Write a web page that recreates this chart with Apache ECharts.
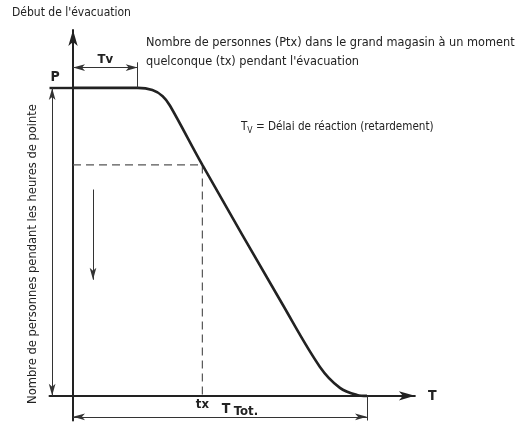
<!DOCTYPE html>
<html>
<head>
<meta charset="utf-8">
<script src="https://cdn.jsdelivr.net/npm/echarts@6/dist/echarts.min.js"></script>
<style>
html, body { margin: 0; background: #fff; }
#main { width: 517px; height: 425px; }
</style>
</head>
<body>
<div id="main"></div>
<script>
// courbe d'évacuation : temps T (en % de T Tot.) / personnes (en % de P)
var curveT = [0, 15, 22, 27, 30.5, 33, 44, 71.4, 84, 90.8, 96.6, 100];
var curveP = [100, 100, 100, 99.3, 97.3, 94.2, 75, 29.5, 9.4, 2.6, 0.3, 0];

var peakP = 100;     // P
var tvValue = 22;    // Tv : délai de réaction
var txValue = 44;    // tx
var ptxValue = 75;   // Ptx
var tTotValue = 100; // T Tot.

var txLabel = 'tx';

var FONT = "'DejaVu Sans Condensed', 'Liberation Sans Narrow', sans-serif";
var INK = '#222';

var curveData = curveT.map(function (t, i) { return [t, curveP[i]]; });

var chart = echarts.init(document.getElementById('main'));

var option = {
    backgroundColor: '#fff',
    animation: false,
    grid: { left: 49.5, right: 102.1, top: 30, bottom: 4.5, outerBoundsMode: 'none', containLabel: false },
    xAxis: {
        type: 'value',
        min: -8,
        max: 116.3,
        splitLine: { show: false },
        axisTick: { show: false },
        axisLabel: { show: false },
        axisLine: {
            onZero: true,
            symbol: ['none', 'arrow'],
            symbolSize: [7, 16],
            lineStyle: { color: INK, width: 2 }
        },
        name: 'T',
        nameLocation: 'end',
        nameGap: 13,
        nameTextStyle: { color: INK, fontFamily: FONT, fontWeight: 'bold', fontSize: 14, padding: [10, 0, 0, 0] }
    },
    yAxis: {
        type: 'value',
        min: -8,
        max: 118.8,
        splitLine: { show: false },
        axisTick: { show: false },
        axisLabel: { show: false },
        axisLine: {
            onZero: true,
            symbol: ['none', 'arrow'],
            symbolSize: [7, 16],
            lineStyle: { color: INK, width: 2 }
        }
    },
    series: [
        {
            // pointillés Ptx / tx
            type: 'line',
            data: [
                [0, ptxValue],
                [txValue, ptxValue],
                {
                    value: [txValue, 0],
                    symbol: 'circle',
                    symbolSize: 0,
                    label: {
                        show: true, position: 'bottom', distance: 2, formatter: txLabel,
                        color: INK, fontFamily: FONT, fontWeight: 'bold', fontSize: 13
                    }
                }
            ],
            symbol: 'none',
            showSymbol: true,
            silent: true,
            lineStyle: { color: '#555', width: 1.2, type: [8, 5] },
            z: 2
        },
        {
            type: 'line',
            data: curveData,
            smooth: 0.35,
            symbol: 'none',
            silent: true,
            lineStyle: { color: INK, width: 2.6 },
            z: 3,
            markLine: {
                silent: true,
                symbol: ['arrow', 'arrow'],
                symbolSize: [5, 12],
                lineStyle: { color: '#333', width: 1, type: 'solid' },
                label: { show: false },
                data: [
                    // Tv
                    [
                        {
                            coord: [0, 106.6],
                            label: {
                                show: true, position: 'middle', formatter: 'Tv', distance: 1,
                                color: INK, fontFamily: FONT, fontWeight: 'bold', fontSize: 13
                            }
                        },
                        { coord: [tvValue, 106.6] }
                    ],
                    [{ coord: [tvValue, peakP], symbol: 'none' }, { coord: [tvValue, 108.3], symbol: 'none' }],
                    // P
                    [{ coord: [-8, peakP], symbol: 'none', lineStyle: { width: 2.4, color: INK } }, { coord: [0, peakP], symbol: 'none' }],
                    [{ coord: [-7.1, peakP] }, { coord: [-7.1, 0] }],
                    // T Tot.
                    [
                        {
                            coord: [0, -6.8],
                            label: {
                                show: true, position: 'middle', distance: -3,
                                formatter: '{a|T} {b|Tot.}',
                                padding: [0, 0, 0, 40],
                                rich: {
                                    a: { color: INK, fontFamily: FONT, fontWeight: 'bold', fontSize: 14, padding: [0, 0, 3, 0] },
                                    b: { color: INK, fontFamily: FONT, fontWeight: 'bold', fontSize: 13 }
                                }
                            }
                        },
                        { coord: [tTotValue, -6.8] }
                    ],
                    [{ coord: [tTotValue, 0], symbol: 'none' }, { coord: [tTotValue, -8], symbol: 'none' }],
                    // flèche descendante
                    [{ coord: [6.8, 67], symbol: 'none' }, { coord: [6.8, 37.7] }]
                ]
            }
        }
    ],
    graphic: [
        {
            type: 'text', left: 12, top: 7,
            style: { text: "Début de l'évacuation", fill: INK, font: '12px ' + FONT }
        },
        {
            type: 'text', left: 146, top: 33,
            style: {
                text: "Nombre de personnes (Ptx) dans le grand magasin à un moment\nquelconque (tx) pendant l'évacuation",
                fill: INK, font: '12.6px ' + FONT, lineHeight: 19
            }
        },
        {
            type: 'text', left: 241, top: 121,
            style: {
                text: '{t|T}{s|V}{n| = Délai de réaction (retardement)}',
                rich: {
                    t: { fill: INK, font: '11.6px ' + FONT },
                    s: { fill: INK, font: '8.5px ' + FONT, padding: [7, 0, 0, 0] },
                    n: { fill: INK, font: '11.6px ' + FONT }
                }
            }
        },
        {
            type: 'text', x: 55, y: 77,
            style: { text: 'P', fill: INK, font: 'bold 14px ' + FONT, align: 'center', verticalAlign: 'middle' }
        },
        {
            type: 'text', x: 33, y: 254, rotation: Math.PI / 2,
            style: {
                text: 'Nombre de personnes pendant les heures de pointe',
                fill: INK, font: '12.8px ' + FONT, align: 'center', verticalAlign: 'middle'
            }
        }
    ]
};

chart.setOption(option);
</script>
</body>
</html>
